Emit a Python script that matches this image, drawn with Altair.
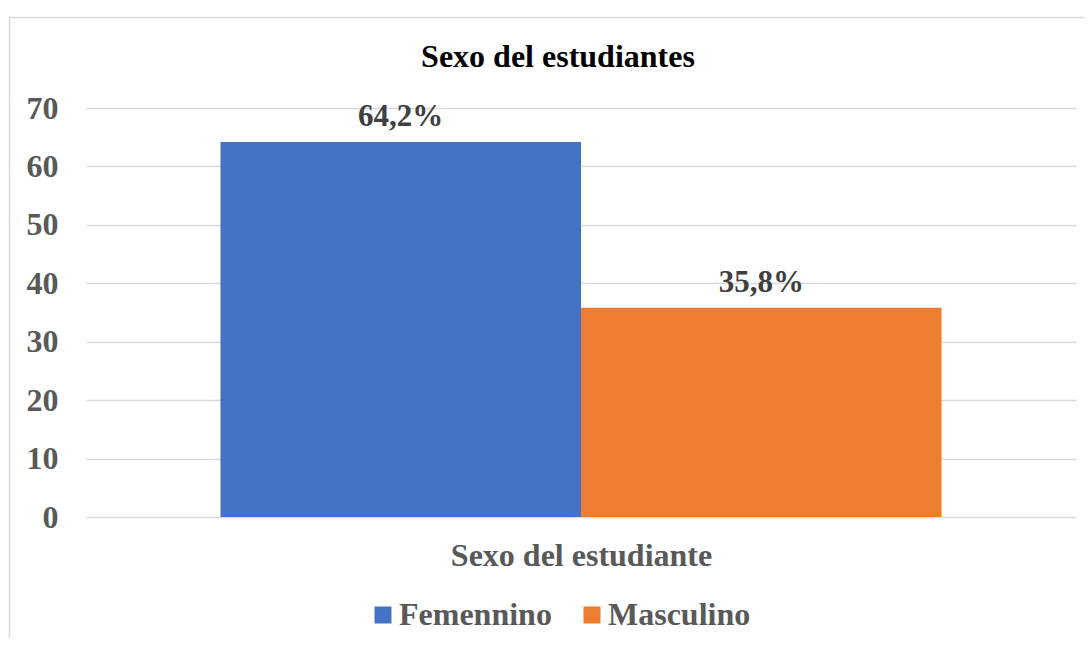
import altair as alt
import pandas as pd

categories = ["Femennino", "Masculino"]
values = [64.2, 35.8]
labels = ["64,2%", "35,8%"]
colors = ["#4472C4", "#ED7D31"]
y_ticks = [0, 10, 20, 30, 40, 50, 60, 70]
title_text = "Sexo del estudiantes"
x_title = "Sexo del estudiante"

FONT = "Liberation Serif"
GRAY = "#595959"

df = pd.DataFrame({"Sexo": categories, "Valor": values, "Etiqueta": labels})
title_df = pd.DataFrame({"t": [title_text]})

x = alt.X(
    "Sexo:N",
    sort=categories,
    scale=alt.Scale(paddingInner=0, paddingOuter=0.373),
    axis=alt.Axis(
        title=x_title, labels=False, ticks=False, domain=False,
        titleFont=FONT, titleFontSize=32, titleFontWeight="bold",
        titleColor=GRAY, titlePadding=23,
    ),
)
y = alt.Y(
    "Valor:Q",
    scale=alt.Scale(domain=[0, 70]),
    axis=alt.Axis(
        title=None, values=y_ticks, ticks=False, domain=False,
        labelFont=FONT, labelFontSize=32, labelFontWeight="bold",
        labelColor=GRAY, labelPadding=28,
        gridColor="#d9d9d9", gridWidth=1.5,
    ),
)

bars = alt.Chart(df).mark_bar().encode(
    x=x,
    y=y,
    color=alt.Color(
        "Sexo:N",
        sort=categories,
        scale=alt.Scale(domain=categories, range=colors),
        legend=alt.Legend(
            title=None, orient="none", legendX=281, legendY=491,
            direction="horizontal", symbolType="square", symbolSize=289,
            symbolStrokeWidth=0, labelFont=FONT, labelFontSize=32,
            labelFontWeight="bold", labelColor=GRAY, labelOffset=0,
            columnPadding=24, padding=0, labelLimit=400,
        ),
    ),
)

text = alt.Chart(df).mark_text(
    dy=-16, baseline="alphabetic", font=FONT, fontSize=31,
    fontWeight="bold", color="#404040",
).encode(x=x, y=y, text="Etiqueta:N")

title = alt.Chart(title_df).mark_text(
    font=FONT, fontSize=32, fontWeight="bold", color="#000000",
    baseline="alphabetic", align="center",
).encode(x=alt.value(472), y=alt.value(-41), text="t:N")

border = alt.Chart(title_df).mark_rect(
    fillOpacity=0, stroke="#d9d9d9", strokeWidth=1.5,
).encode(x=alt.value(-76.5), x2=alt.value(1300), y=alt.value(-90.5), y2=alt.value(900))

chart = alt.layer(border, bars, text, title).properties(
    width=990,
    height=409,
    padding={"left": 78, "top": 100, "right": 8, "bottom": 121},
    autosize=alt.AutoSizeParams(type="none"),
    background="white",
).configure_view(stroke=None)

chart.save("out.html", embed_options={"renderer": "svg", "actions": False})
